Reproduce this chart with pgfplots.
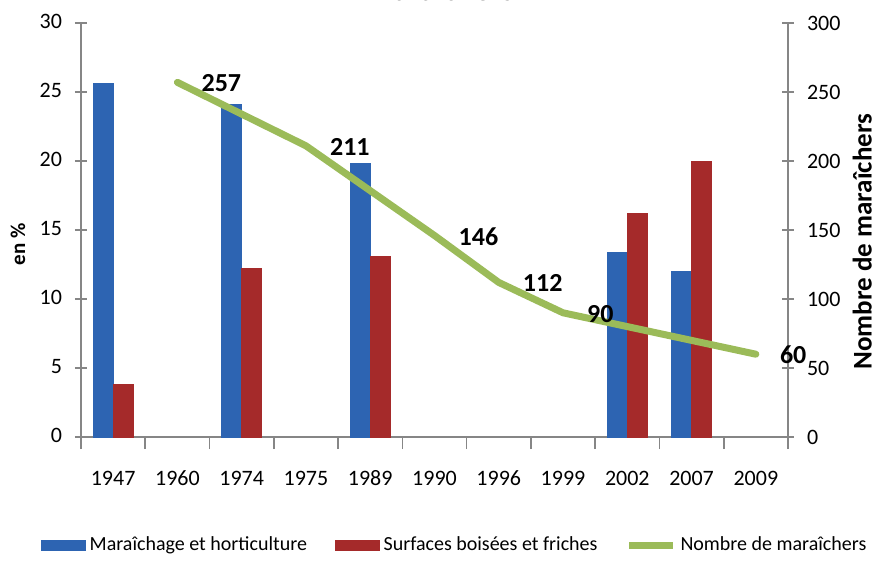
\documentclass[border=0pt]{standalone}
\usepackage{pgfplots}
\pgfplotsset{compat=1.18}
\usepackage{fontspec}
\setmainfont{Carlito}
\definecolor{axgray}{RGB}{134,134,134}
\definecolor{bluedark}{RGB}{45,100,178}
\definecolor{bluemid}{RGB}{82,148,224}
\definecolor{reddark}{RGB}{165,42,42}
\definecolor{redmid}{RGB}{225,80,76}
\definecolor{lgreen}{RGB}{155,187,89}
\pgfplotsset{greenleg/.style={legend image code/.code={\draw[##1] (0pt,0pt) -- (22pt,0pt);}}}
\begin{document}
\begin{tikzpicture}
\pgfplotsset{
  common/.style={
    scale only axis, width=353.5pt, height=207pt,
    xmin=-0.5, xmax=10.5,
    /pgf/number format/assume math mode=true,
    tick label style={font=\fontsize{11}{13}\selectfont, text=black},
    axis line style={axgray, line width=0.8pt},
    every tick/.style={axgray, line width=0.8pt},
    tick align=center, major tick length=6pt, minor tick length=6pt,
  }
}
\begin{axis}[common,
  axis x line*=bottom, axis y line*=left,
  ymin=0, ymax=30, ytick={0,5,...,30},
  xtick={0,1,2,3,4,5,6,7,8,9,10},
  xticklabels={1947,1960,1974,1975,1989,1990,1996,1999,2002,2007,2009},
  minor xtick={-0.5,0.5,...,10.5},
  every major x tick/.append style={draw=none},
  every minor x tick/.append style={axgray, line width=0.8pt},
  typeset ticklabels with strut,
  xticklabel style={yshift=-5.5pt},
  yticklabel style={xshift=-3pt},
  ylabel={en \%},
  ylabel style={at={(axis description cs:-0.089,0.466)}, anchor=center, font=\bfseries\fontsize{10.5}{12}\selectfont},
  ybar=0pt, bar width=10pt,
  legend image code/.code={\draw[#1] (0pt,-2.5pt) rectangle (22pt,2.5pt);},
  legend style={at={(axis description cs:0.53,-0.262)}, anchor=center, draw=none, fill=none,
    font=\fontsize{10}{12}\selectfont, legend columns=3,
    /tikz/every even column/.append style={column sep=12pt}},
]
\addplot[draw=bluedark, line width=0.3pt, left color=bluedark, middle color=bluemid, right color=bluedark]
  coordinates {(0,25.6) (2,24.1) (4,19.8) (8,13.4) (9,12.0)};
\addlegendentry{Maraîchage et horticulture}
\addplot[draw=reddark, line width=0.3pt, left color=reddark, middle color=redmid, right color=reddark]
  coordinates {(0,3.8) (2,12.2) (4,13.1) (8,16.2) (9,20.0)};
\addlegendentry{Surfaces boisées et friches}
\addlegendimage{lgreen, line width=3.5pt, greenleg}
\addlegendentry{Nombre de maraîchers}
\end{axis}
\begin{axis}[common,
  axis x line=none, axis y line*=right,
  ymin=0, ymax=300, ytick={0,50,...,300},
  yticklabel style={xshift=3pt},
  ylabel={Nombre de maraîchers},
  ylabel style={at={(axis description cs:1.105,0.472)}, anchor=center, font=\bfseries\fontsize{13.5}{15}\selectfont},
]
\addplot[lgreen, line width=3.5pt, line join=round, line cap=round,
  point meta=explicit symbolic, nodes near coords,
  nodes near coords style={anchor=west, xshift=7pt, yshift=-0.5pt, text=black, font=\bfseries\fontsize{13}{15}\selectfont}]
  coordinates {(1,257) [257] (3,211) [211] (5,146) [146] (6,112) [112] (7,90) [90] (10,60) [60]};
\end{axis}
\node[anchor=base, font=\bfseries\fontsize{16}{18}\selectfont] at (179.5pt,218pt) {Maraîchers};
\pgfresetboundingbox
\useasboundingbox (-40.5pt,-71pt) rectangle (397pt,218.5pt);
\end{tikzpicture}
\end{document}
